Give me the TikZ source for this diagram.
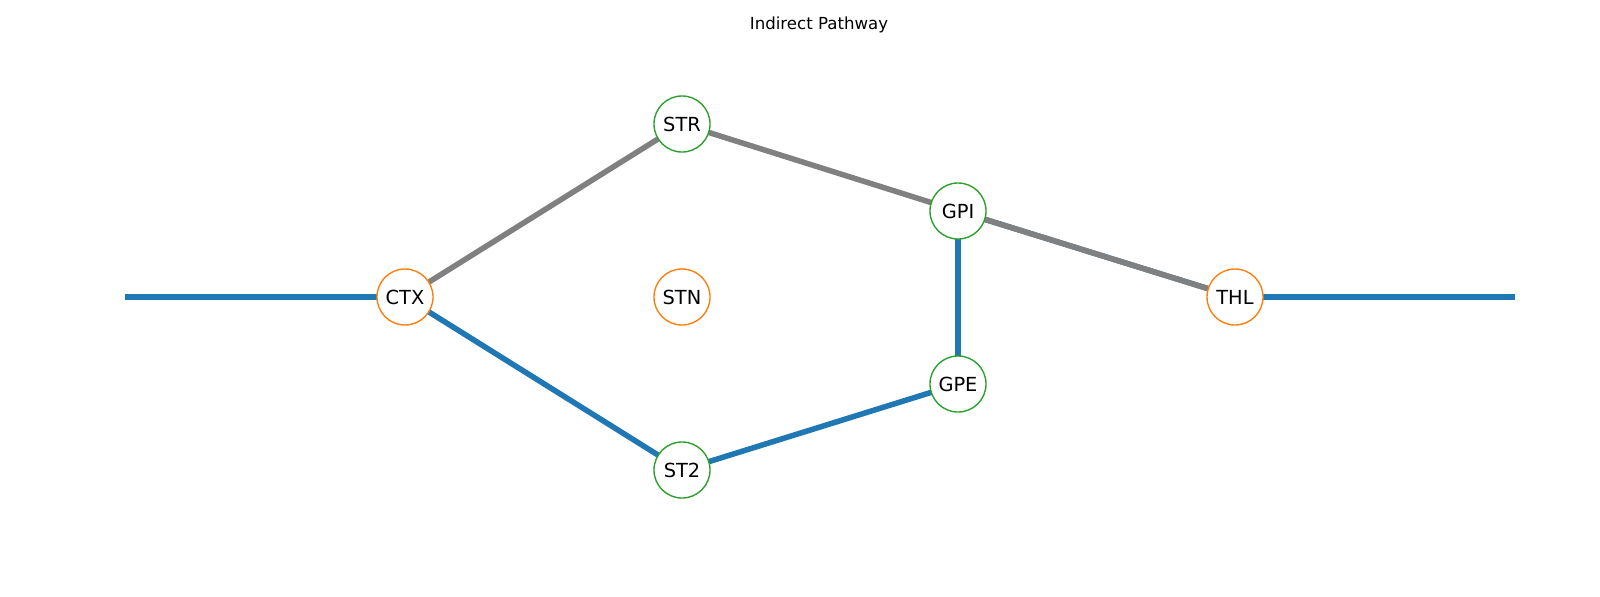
\documentclass[tikz,border=0pt]{standalone}
\usepackage{fontspec}
\setmainfont{DejaVu Sans}
\usepackage{tikz}
\definecolor{tabblue}{HTML}{1F77B4}
\definecolor{taborange}{HTML}{FF7F0E}
\definecolor{tabgreen}{HTML}{2CA02C}
\definecolor{tabgray}{HTML}{808080}
\begin{document}
\begin{tikzpicture}[
			x=0.01in, y=-0.01in,
			mynode/.style={circle, draw, fill=white, minimum size=0.56in, inner sep=0pt, line width=1pt, font=\fontsize{14}{16}\selectfont},
			outnode/.style={mynode, draw=taborange},
			innode/.style={mynode, draw=tabgreen},
			blueedge/.style={line width=4pt, color=tabblue},
			grayedge/.style={line width=4pt, color=tabgray}
		]
		\useasboundingbox (0,0) rectangle (1600,596);

		\node[anchor=base, inner sep=0pt, font=\fontsize{12}{14}\selectfont] (title) at (819,29) {Indirect Pathway};

		\coordinate (in) at (125,297);
		\coordinate (out) at (1515,297);

		\path (405,297) coordinate (ctx);
		\path (682,124) coordinate (str);
		\path (682,297) coordinate (stn);
		\path (682,470) coordinate (st2);
		\path (958,211) coordinate (gpi);
		\path (958,384) coordinate (gpe);
		\path (1235,297) coordinate (thl);

		\draw[blueedge] (in) -- (ctx);
		\draw[blueedge] (ctx) -- (st2);
		\draw[blueedge] (st2) -- (gpe);
		\draw[blueedge] (gpe) -- (gpi);
		\draw[blueedge] (gpi) -- (thl);
		\draw[blueedge] (thl) -- (out);

		\draw[grayedge] (ctx) -- (str);
		\draw[grayedge] (str) -- (gpi);
		\draw[grayedge] (gpi) -- (thl);

		\node[outnode] (CTX) at (ctx) {CTX};
		\node[innode] (STR) at (str) {STR};
		\node[outnode] (STN) at (stn) {STN};
		\node[innode] (ST2) at (st2) {ST2};
		\node[innode] (GPI) at (gpi) {GPI};
		\node[innode] (GPE) at (gpe) {GPE};
		\node[outnode] (THL) at (thl) {THL};

	\end{tikzpicture}
\end{document}
